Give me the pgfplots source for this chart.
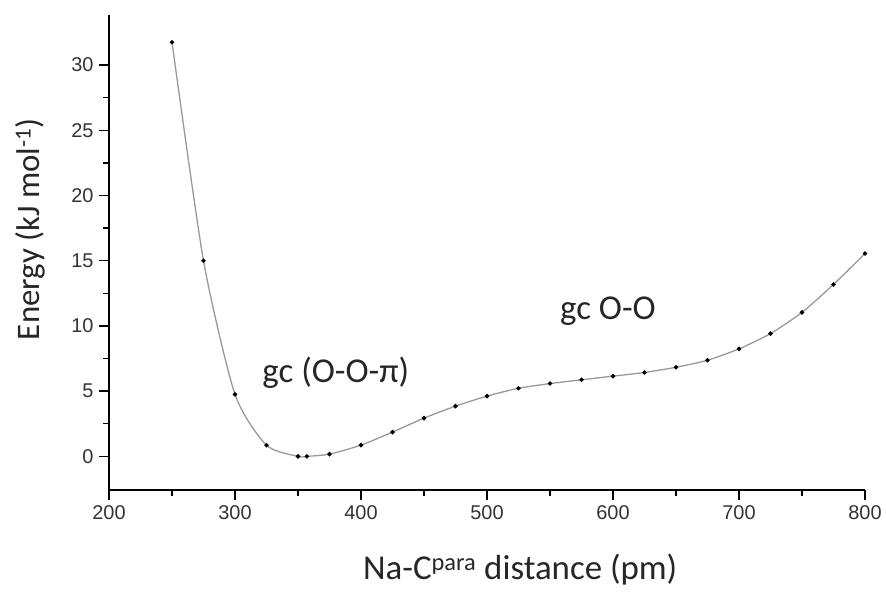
\documentclass[border=0pt]{standalone}
\usepackage{pgfplots}
\pgfplotsset{compat=1.18}
\usepackage{fontspec}
\setmainfont{Carlito}
\newfontfamily\arialfont{Liberation Sans}
\begin{document}
\begin{tikzpicture}
\useasboundingbox (-109bp,-107bp) rectangle (777bp,490bp);
\begin{axis}[
  scale only axis,
  width=756bp, height=475bp,
  xmin=200, xmax=800, ymin=-2.58, ymax=33.84,
  xtick={200,300,...,800},
  ytick={0,5,...,30},
  minor tick num=1,
  axis x line*=bottom, axis y line*=left,
  axis line style={line width=1.6bp, -},
  tick style={line width=1.4bp, black},
  tick align=outside,
  major tick length=10bp,
  minor tick length=6bp,
  /pgf/number format/assume math mode=true,
  tick label style={font=\arialfont\fontsize{20}{24}\selectfont, text=black!80},
  xticklabel style={yshift=-2bp},
  yticklabel style={xshift=-2bp},
  clip=false,
]
\addplot[smooth, tension=0.4, color=black!40, line width=1.3bp,
  mark=*, mark size=1.5bp, mark options={black, fill=black, draw=black}]
  coordinates {
  (250,31.75) (275,15.0) (300,4.75) (325,0.85) (350,0.0) (357,0.0)
  (375,0.17) (400,0.86) (425,1.86) (450,2.93) (475,3.85) (500,4.62)
  (525,5.22) (550,5.58) (575,5.87) (600,6.15) (625,6.43) (650,6.83)
  (675,7.37) (700,8.24) (725,9.41) (750,11.04) (775,13.18) (800,15.55)
  };
\node[anchor=base, font=\fontsize{35}{40}\selectfont, text=black!85] at (axis cs:380,5.65) {gc (O-O-π)};
\node[anchor=base, font=\fontsize{35}{40}\selectfont, text=black!85] at (axis cs:596,10.5) {gc O-O};
\node[anchor=base, font=\fontsize{35}{40}\selectfont, text=black!85] at (axis description cs:0.544,-0.189) {Na-C\textsuperscript{para} distance (pm)};
\node[anchor=center, rotate=90, font=\fontsize{33}{40}\selectfont, text=black!85] at (axis description cs:-0.104,0.549) {Energy (kJ mol\textsuperscript{-1})};
\end{axis}
\end{tikzpicture}
\end{document}
